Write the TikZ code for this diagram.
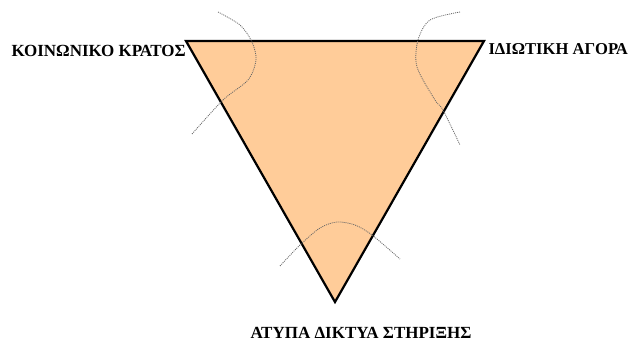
\documentclass[tikz,border=0pt]{standalone}
\usepackage{fontspec}
\setmainfont{Liberation Serif}
\begin{document}
\begin{tikzpicture}[x=1pt,y=1pt,
  lbl/.style={font=\bfseries\fontsize{17}{19}\selectfont, inner sep=0pt},
  sep/.style={black!60, line width=0.8pt, dash pattern=on 1pt off 1pt}]
\useasboundingbox (0,0) rectangle (630,343);
\coordinate (A) at (186,302);
\coordinate (B) at (484,302);
\coordinate (C) at (335,41);
\filldraw[fill={rgb,255:red,255;green,204;blue,153}, line width=2.2pt, line join=miter] (A) -- (B) -- (C) -- cycle;
\draw[sep] plot[smooth] coordinates {(218,331) (240,318) (252,301) (256,283) (248,263) (223,243) (192,209)};
\draw[sep] plot[smooth] coordinates {(460,331) (430,323) (418,303) (417,276) (435,243) (443,233) (460,198)};
\draw[sep] plot[smooth] coordinates {(280,77) (300,98) (320,115) (337,121) (355,118) (372,108) (400,84)};
\node[lbl, anchor=base east] (k) at (186,286) {ΚΟΙΝΩΝΙΚΟ ΚΡΑΤΟΣ};
\node[lbl, anchor=base east, font=\bfseries\fontsize{16.6}{19}\selectfont] (i) at (628,288) {ΙΔΙΩΤΙΚΗ ΑΓΟΡΑ};
\node[lbl, anchor=base] (a) at (361,4) {ΑΤΥΠΑ ΔΙΚΤΥΑ ΣΤΗΡΙΞΗΣ};
\end{tikzpicture}
\end{document}
